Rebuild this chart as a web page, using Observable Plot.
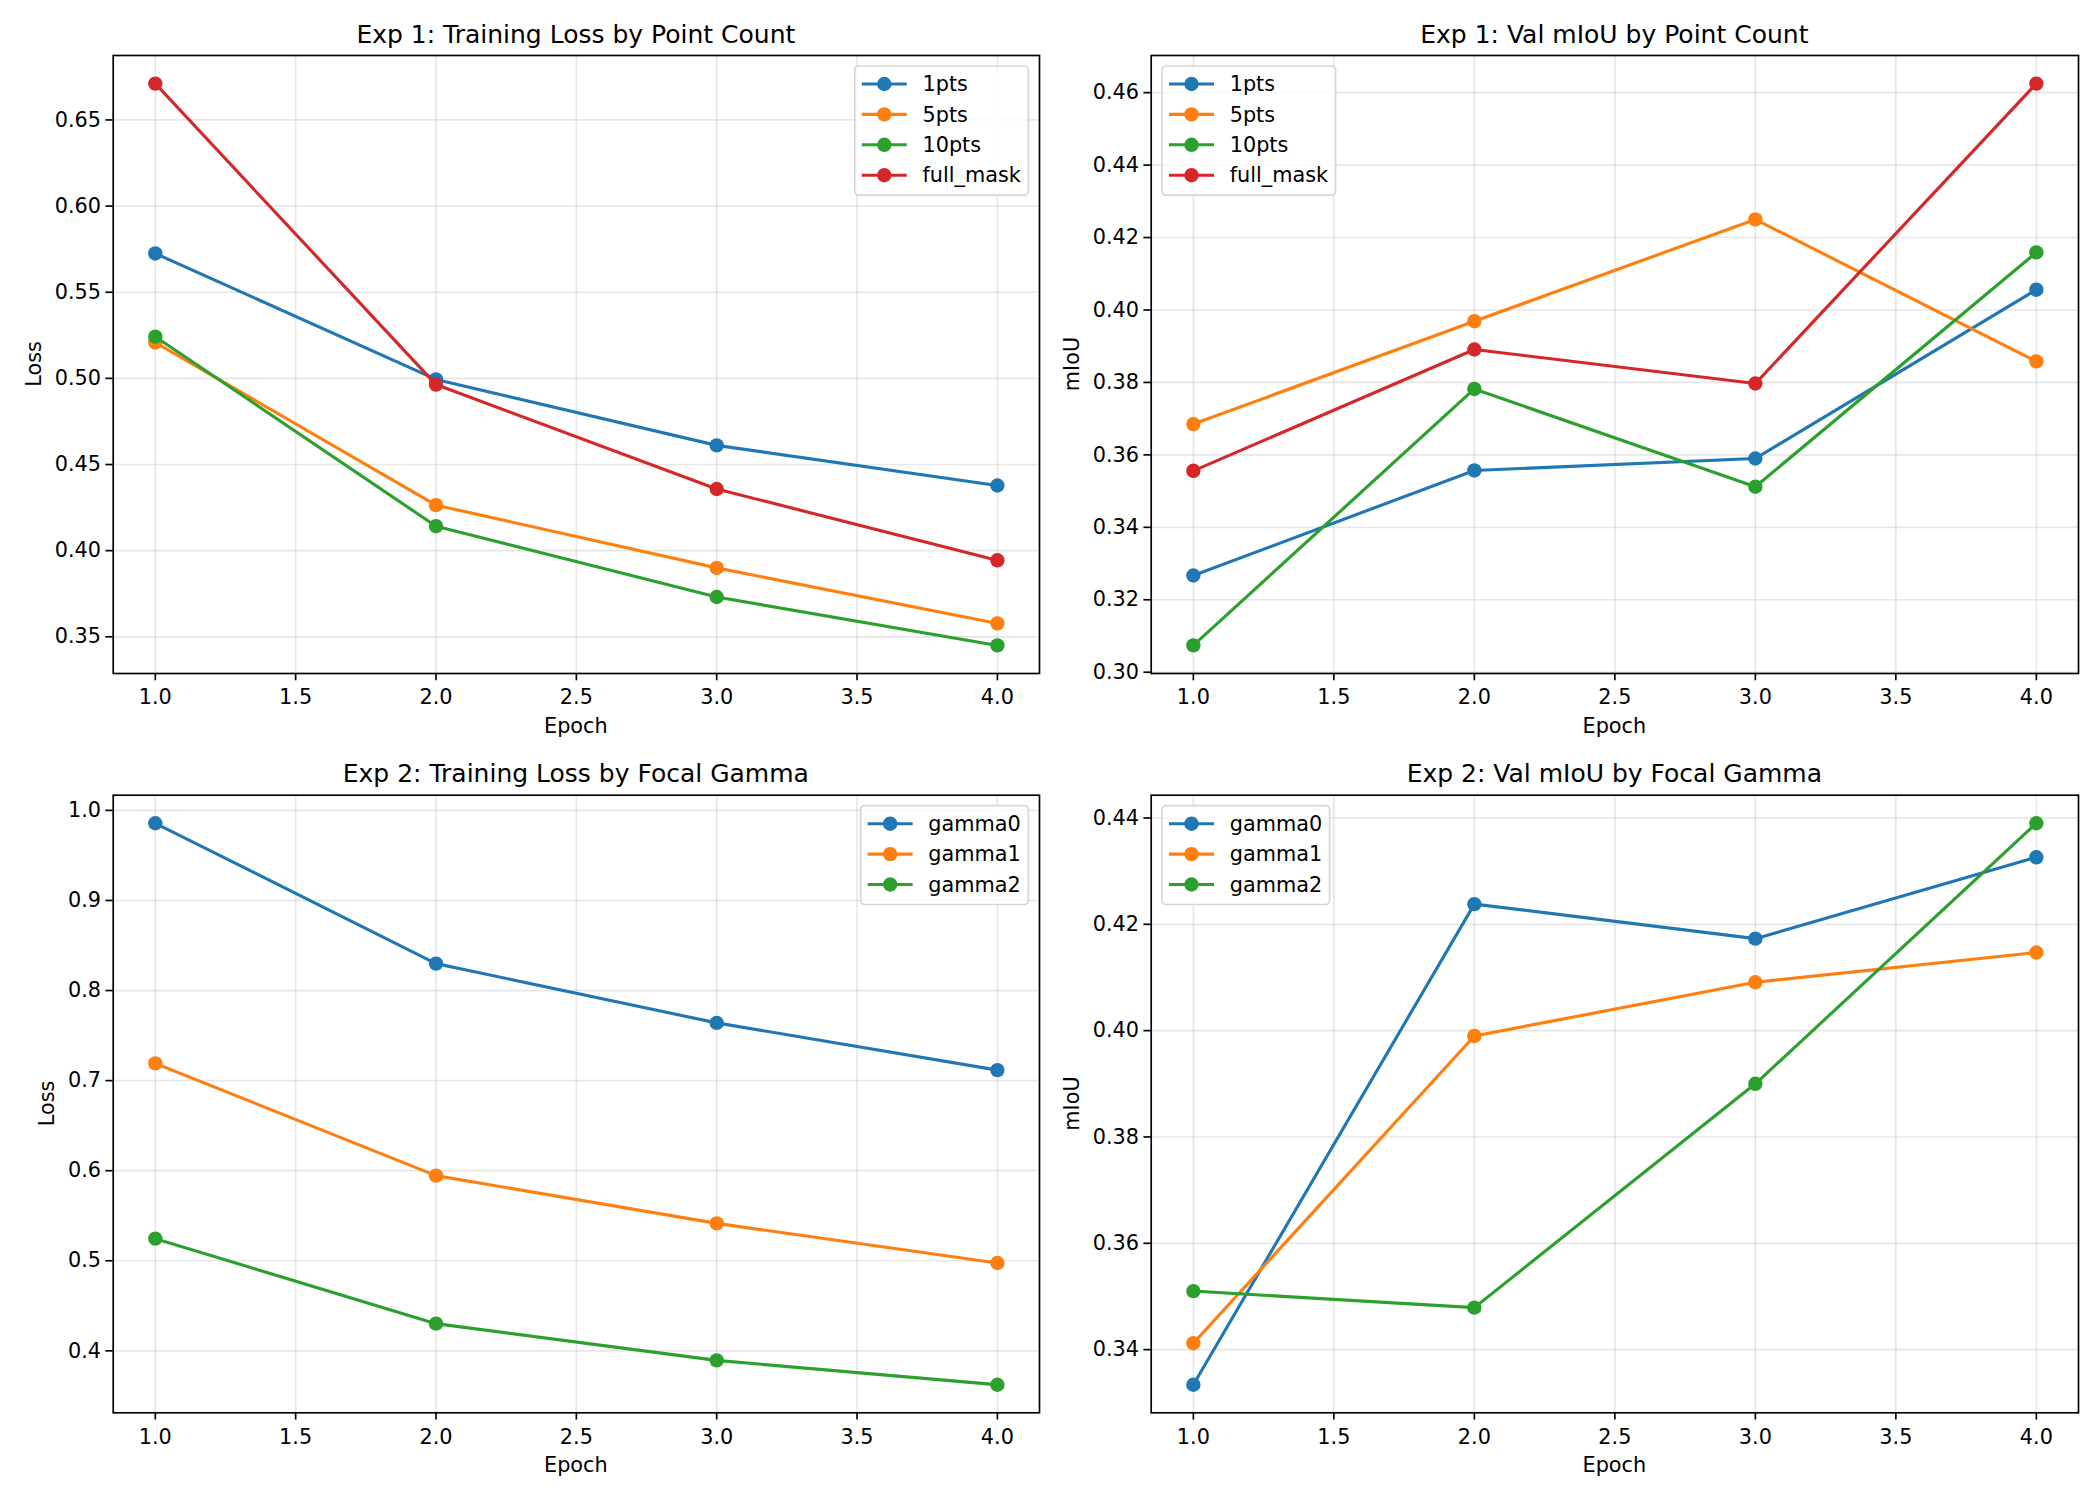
<!DOCTYPE html>
<html>
<head>
<meta charset="utf-8">
<script src="https://cdn.jsdelivr.net/npm/d3@7"></script>
<script src="https://cdn.jsdelivr.net/npm/@observablehq/plot@0.6"></script>
<style>
  html, body { margin: 0; padding: 0; background: #ffffff; }
  #grid { display: grid; grid-template-columns: 1050px 1050px; grid-template-rows: 750px 750px; width: 2100px; height: 1500px; }
  #grid svg { display: block; }
</style>
</head>
<body>
<div id="grid"></div>
<script>
// Training epochs shared by every run
const epochs = [1, 2, 3, 4];

// Experiment 1: number of clicked points
const pointRunNames = ["1pts", "5pts", "10pts", "full_mask"];
const loss1pts = [0.5725, 0.4994, 0.4611, 0.4378];
const loss5pts = [0.5208, 0.4264, 0.3900, 0.3578];
const loss10pts = [0.5242, 0.4142, 0.3731, 0.3450];
const lossFullMask = [0.6711, 0.4964, 0.4358, 0.3944];
const miou1pts = [0.3267, 0.3557, 0.3590, 0.4056];
const miou5pts = [0.3685, 0.3969, 0.4250, 0.3858];
const miou10pts = [0.3074, 0.3782, 0.3512, 0.4159];
const miouFullMask = [0.3556, 0.3891, 0.3797, 0.4625];

// Experiment 2: focal loss gamma
const gammaRunNames = ["gamma0", "gamma1", "gamma2"];
const lossGamma0 = [0.9857, 0.8299, 0.7641, 0.7117];
const lossGamma1 = [0.7191, 0.5945, 0.5415, 0.4975];
const lossGamma2 = [0.5246, 0.4302, 0.3894, 0.3624];
const miouGamma0 = [0.3334, 0.4238, 0.4173, 0.4326];
const miouGamma1 = [0.3412, 0.3990, 0.4091, 0.4147];
const miouGamma2 = [0.3510, 0.3479, 0.3900, 0.4390];

// Tick values
const epochTicks = [1.0, 1.5, 2.0, 2.5, 3.0, 3.5, 4.0];
const exp1LossTicks = [0.35, 0.40, 0.45, 0.50, 0.55, 0.60, 0.65];
const exp1MiouTicks = [0.30, 0.32, 0.34, 0.36, 0.38, 0.40, 0.42, 0.44, 0.46];
const exp2LossTicks = [0.4, 0.5, 0.6, 0.7, 0.8, 0.9, 1.0];
const exp2MiouTicks = [0.34, 0.36, 0.38, 0.40, 0.42, 0.44];

// tab10 colours, in run order
const palette = ["#1f77b4", "#ff7f0e", "#2ca02c", "#d62728"];

const FONT = "DejaVu Sans";
const FS = 20.8;       // 10pt at 150 dpi
const TITLE_FS = 25;   // 12pt at 150 dpi
const LW = 3.125;      // 1.5pt line
const MR = 7.2;        // marker radius incl. edge
const SPINE = 1.67;
const TICK = 7.3, TICKPAD = 4.9;

const measureCtx = document.createElement("canvas").getContext("2d");
function textWidth(s, size = FS) {
  measureCtx.font = `${size}px "${FONT}"`;
  return measureCtx.measureText(s).width;
}

const panels = [
  {title: "Exp 1: Training Loss by Point Count", ylabel: "Loss", names: pointRunNames,
   series: [loss1pts, loss5pts, loss10pts, lossFullMask], yTicks: exp1LossTicks, fmt: ".2f",
   legend: "right", margin: {left: 112.7, right: 11, top: 55, bottom: 77}},
  {title: "Exp 1: Val mIoU by Point Count", ylabel: "mIoU", names: pointRunNames,
   series: [miou1pts, miou5pts, miou10pts, miouFullMask], yTicks: exp1MiouTicks, fmt: ".2f",
   legend: "left", margin: {left: 100.7, right: 22, top: 55, bottom: 77}},
  {title: "Exp 2: Training Loss by Focal Gamma", ylabel: "Loss", names: gammaRunNames,
   series: [lossGamma0, lossGamma1, lossGamma2], yTicks: exp2LossTicks, fmt: ".1f",
   legend: "right", margin: {left: 112.7, right: 11, top: 44.7, bottom: 87.7}},
  {title: "Exp 2: Val mIoU by Focal Gamma", ylabel: "mIoU", names: gammaRunNames,
   series: [miouGamma0, miouGamma1, miouGamma2], yTicks: exp2MiouTicks, fmt: ".2f",
   legend: "left", margin: {left: 100.7, right: 22, top: 44.7, bottom: 87.7}}
];

const W = 1050, H = 750;

// Autoscale with 5% padding on each side of the data extent
function padded(lo, hi) {
  const m = (hi - lo) * 0.05;
  return [lo - m, hi + m];
}

function decorations(p) {
  return () => {
    const m = p.margin;
    const fl = m.left, fr = W - m.right, ft = m.top, fb = H - m.bottom;
    const g = d3.create("svg:g").attr("font-family", FONT).attr("fill", "black");

    // title
    g.append("text")
      .attr("x", (fl + fr) / 2).attr("y", ft - 12.5)
      .attr("text-anchor", "middle").attr("font-size", TITLE_FS)
      .text(p.title);

    // x label
    g.append("text")
      .attr("x", (fl + fr) / 2).attr("y", fb + TICK + TICKPAD + 24.2 + 8.3 + 15.3)
      .attr("text-anchor", "middle").attr("font-size", FS)
      .text("Epoch");

    // y label, clear of the widest tick label
    const fmt = d3.format(p.fmt);
    const tw = d3.max(p.yTicks, t => textWidth(fmt(t)));
    const cx = fl - TICK - TICKPAD - tw - 8.3 - 12.1;
    g.append("text")
      .attr("transform", `translate(${cx},${(ft + fb) / 2}) rotate(-90)`)
      .attr("text-anchor", "middle").attr("dy", "0.35em").attr("font-size", FS)
      .text(p.ylabel);

    // legend
    const n = p.names.length;
    const maxW = d3.max(p.names, s => textWidth(s));
    const bw = 67.7 + maxW + 7.5;
    const bh = 38 + (n - 1) * 30.4;
    const bx = p.legend === "right" ? fr - 10.7 - bw : fl + 11.3;
    const by = ft + 11;
    const lg = g.append("g");
    lg.append("rect")
      .attr("x", bx).attr("y", by).attr("width", bw).attr("height", bh)
      .attr("rx", 4).attr("fill", "white").attr("fill-opacity", 0.8)
      .attr("stroke", "#cccccc").attr("stroke-opacity", 0.8).attr("stroke-width", 1.7);
    p.names.forEach((name, i) => {
      const cy = by + 18 + i * 30.4;
      lg.append("line")
        .attr("x1", bx + 7).attr("x2", bx + 52).attr("y1", cy).attr("y2", cy)
        .attr("stroke", palette[i]).attr("stroke-width", LW);
      lg.append("circle")
        .attr("cx", bx + 29.5).attr("cy", cy).attr("r", MR).attr("fill", palette[i]);
      lg.append("text")
        .attr("x", bx + 67.7).attr("y", cy).attr("dy", "0.35em")
        .attr("text-anchor", "start")
        .attr("font-size", FS).text(name);
    });
    return g.node();
  };
}

const grid = document.getElementById("grid");

for (const p of panels) {
  const all = p.series.flat();
  const yDomain = padded(d3.min(all), d3.max(all));
  const xDomain = padded(d3.min(epochs), d3.max(epochs));

  const runMarks = [];
  p.series.forEach((vals, i) => {
    const rows = epochs.map((e, j) => ({epoch: e, value: vals[j], run: p.names[i]}));
    runMarks.push(Plot.line(rows, {x: "epoch", y: "value", stroke: palette[i], strokeWidth: LW, strokeLinejoin: "round", strokeLinecap: "square"}));
    runMarks.push(Plot.dot(rows, {x: "epoch", y: "value", fill: palette[i], r: MR, stroke: "none"}));
  });

  const chart = Plot.plot({
    width: W, height: H,
    marginLeft: p.margin.left, marginRight: p.margin.right,
    marginTop: p.margin.top, marginBottom: p.margin.bottom,
    style: {fontFamily: FONT, fontSize: FS + "px", background: "white", color: "black", overflow: "visible"},
    x: {domain: xDomain},
    y: {domain: yDomain},
    marks: [
      Plot.gridX(epochTicks, {stroke: "#b0b0b0", strokeOpacity: 0.3, strokeWidth: 1.67}),
      Plot.gridY(p.yTicks, {stroke: "#b0b0b0", strokeOpacity: 0.3, strokeWidth: 1.67}),
      ...runMarks,
      Plot.frame({stroke: "black", strokeWidth: SPINE}),
      Plot.axisX({ticks: epochTicks, tickFormat: d3.format(".1f"), tickSize: TICK, tickPadding: TICKPAD + 4,
                  strokeWidth: SPINE, label: null, fontSize: FS}),
      Plot.axisY({ticks: p.yTicks, tickFormat: d3.format(p.fmt), tickSize: TICK, tickPadding: TICKPAD,
                  strokeWidth: SPINE, label: null, fontSize: FS}),
      decorations(p)
    ]
  });
  grid.appendChild(chart);
}
</script>
</body>
</html>
